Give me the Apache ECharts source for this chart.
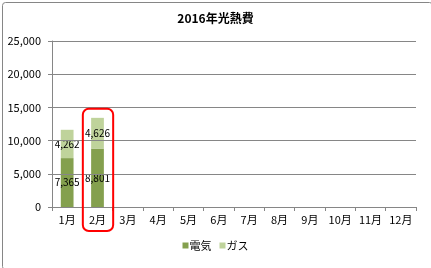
<!DOCTYPE html>
<html><head><meta charset="utf-8">
<script src="https://cdn.jsdelivr.net/npm/echarts@6/dist/echarts.min.js"></script>
<style>html,body{margin:0;padding:0;background:#fff}#c{width:431px;height:268px}</style>
</head><body><div id="c"></div>
<script>
const title = '2016年光熱費';
const categories = ['1月','2月','3月','4月','5月','6月','7月','8月','9月','10月','11月','12月'];
const electricity = [7365, 8801, null, null, null, null, null, null, null, null, null, null];
const gas = [4262, 4626, null, null, null, null, null, null, null, null, null, null];
const yTicks = [0, 5000, 10000, 15000, 20000, 25000];
const highlightIndex = 1;

const font = '"Noto Sans CJK JP", sans-serif';
const chart = echarts.init(document.getElementById('c'), null, {renderer: 'canvas'});
const labelOpt = {
  show: true, position: 'inside', color: '#000', fontSize: 10, fontFamily: font,
  formatter: p => p.value == null ? '' : p.value.toLocaleString('en-US')
};
chart.setOption({
  animation: false,
  backgroundColor: '#fff',
  title: {text: title, left: 'center', top: 7, textStyle: {fontSize: 12, fontWeight: 'bold', color: '#000', fontFamily: font}},
  grid: {left: 52, right: 15, top: 41, bottom: 61, containLabel: false},
  legend: {
    bottom: 12, left: 'center', itemWidth: 6, itemHeight: 6, itemGap: 8,
    icon: 'rect', textStyle: {fontSize: 11, color: '#000', fontFamily: font, padding: [0, 0, 0, -4]},
    data: ['電気', 'ガス']
  },
  xAxis: {
    type: 'category', data: categories,
    axisLine: {lineStyle: {color: '#868686'}},
    axisTick: {show: true, length: 4, lineStyle: {color: '#868686'}},
    axisLabel: {color: '#000', fontSize: 11, fontFamily: font, margin: 7}
  },
  yAxis: {
    type: 'value', min: yTicks[0], max: yTicks[yTicks.length - 1], interval: yTicks[1] - yTicks[0],
    z: 3,
    axisLine: {show: true, lineStyle: {color: '#868686'}},
    axisTick: {show: true, length: 4, lineStyle: {color: '#868686'}},
    splitLine: {lineStyle: {color: '#868686'}},
    axisLabel: {color: '#000', fontSize: 11, fontFamily: font, margin: 11,
      formatter: v => v.toLocaleString('en-US')}
  },
  series: [
    {name: '電気', type: 'bar', stack: 'a', data: electricity, barWidth: '42%',
      itemStyle: {color: '#84A04E'}, label: labelOpt},
    {name: 'ガス', type: 'bar', stack: 'a', data: gas, barWidth: '42%',
      itemStyle: {color: '#BFD39B'}, label: labelOpt}
  ]
});

// Highlight box around the selected month, positioned via the axes
const c0 = chart.convertToPixel({gridIndex: 0}, [highlightIndex, 0]);
const c1 = chart.convertToPixel({gridIndex: 0}, [highlightIndex + 1, 0]);
const band = c1[0] - c0[0];
const topY = chart.convertToPixel({gridIndex: 0}, [highlightIndex, 14800])[1];
const x0 = c0[0] - band / 2;
chart.setOption({
  graphic: [
    {type: 'rect', left: 0, top: 0, shape: {x: 0.5, y: 0.5, width: 430, height: 267, r: 3},
      style: {fill: null, stroke: '#868686', lineWidth: 1}, z: 100, silent: true},
    {type: 'rect', shape: {x: x0 + 0.5, y: topY, width: band, height: c0[1] + 24 - topY, r: 6},
      style: {fill: null, stroke: '#FF0000', lineWidth: 2}, z: 100, silent: true}
  ]
});
</script></body></html>
